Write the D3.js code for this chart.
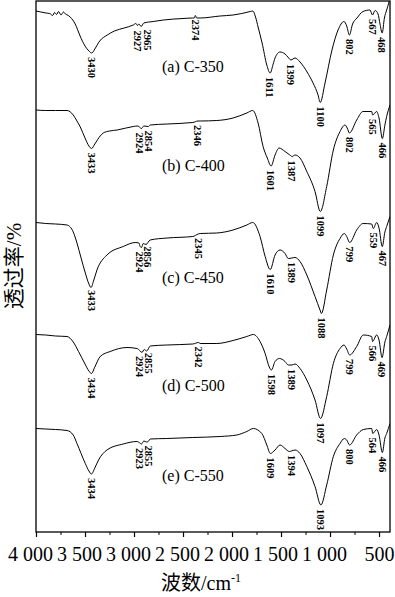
<!DOCTYPE html>
<html>
<head>
<meta charset="utf-8">
<title>FTIR C-350 ~ C-550</title>
<script src="https://d3js.org/d3.v7.min.js"></script>
<style>
  body { margin: 0; background: #fff; }
  text { font-family: "Liberation Serif", "Noto Sans CJK SC", serif; fill: #000; }
</style>
</head>
<body>
<svg width="395" height="597"></svg>
<script>
// spectra: [wavenumber cm-1, transmittance (a.u., stacked)]
var specA = [[4000,103.8],[3950,103.6],[3900,103.4],[3860,103.3],[3830,102.9],[3810,103.5],[3790,103.1],[3770,103.7],[3745,103],
  [3720,103.6],[3700,103.2],[3670,102.9],[3600,101.2],[3550,98.8],[3500,96.8],[3460,95.8],[3430,95.4],[3400,96.2],[3350,97.8],
  [3273,99],[3200,99.8],[3100,100.4],[3008,101],[2980,101.3],[2965,100.9],[2950,101.2],[2927,100.7],[2900,101.4],[2804,101.7],
  [2700,102],[2500,102.3],[2400,102.4],[2385,102.4],[2374,102.9],[2360,102.4],[2325,102.4],[2121,102.8],[1989,103],[1900,103.3],
  [1815,103.7],[1788,103.8],[1760,102.6],[1734,100.6],[1693,97.4],[1645,93],[1611,91.4],[1580,93.2],[1561,94.4],[1510,95.6],
  [1459,95.2],[1430,94.6],[1399,94],[1357,94.4],[1306,93.6],[1234,91.6],[1173,89.4],[1122,87],[1100,85.5],[1051,89.4],[980,96],
  [918,100],[857,101.7],[830,100.8],[802,99],[770,101.2],[725,102.4],[663,103.7],[592,104],[567,103],[540,103.9],[510,103.2],
  [490,101.2],[468,99.4],[445,102.4],[422,104],[398,105.6],[388,106.4]];
var specB = [[4000,84],[3900,83.9],[3800,83.9],[3684,83.9],[3620,83],[3582,81.8],[3548,80.6],[3500,78.4],[3460,76.8],[3433,76.3],
  [3400,77.2],[3345,78.8],[3314,79.4],[3250,79.8],[3171,80],[3008,80.7],[2960,80.8],[2924,80.3],[2900,80.8],[2854,80.7],[2835,81],
  [2662,81.2],[2400,81.5],[2346,81.8],[2325,81.8],[2155,81.9],[1989,82.4],[1849,83.4],[1788,83.9],[1734,81.4],[1683,76.7],
  [1640,74.4],[1601,72.8],[1561,75],[1520,76.4],[1459,75.7],[1410,75],[1387,74.7],[1357,75],[1306,74.4],[1237,71.7],[1153,67.7],
  [1099,63.7],[1034,68.7],[966,76],[898,79.7],[847,81],[825,80.4],[802,79.4],[728,82],[663,83.7],[575,83.7],[565,83],[524,83.7],
  [500,82.4],[466,78.3],[440,81],[422,82.7],[388,85]];
var specC = [[4000,61.5],[3900,61.3],[3800,61.2],[3684,61],[3620,59.6],[3582,57.4],[3540,54.4],[3497,51.4],[3460,49.2],[3439,48.5],
  [3410,50],[3378,52],[3276,55],[3110,56.7],[2988,57.5],[2950,57.4],[2937,56.7],[2924,56.5],[2906,57.3],[2878,57.1],[2835,58],
  [2662,58.4],[2400,58.7],[2345,59.2],[2325,59.3],[2155,59.4],[1989,60],[1849,61],[1788,61.5],[1714,58.7],[1662,54.7],[1610,52.1],
  [1561,55],[1510,56],[1459,55.3],[1426,54.3],[1389,54.4],[1357,54.5],[1306,53.7],[1237,51],[1153,46.7],[1102,44],[1088,43.3],
  [1034,48],[966,55],[898,58.3],[854,59.3],[830,58.7],[799,57.5],[728,60],[663,61.3],[575,61.2],[559,60.3],[524,61.5],[500,60.4],
  [467,56.7],[440,59.6],[422,60.7],[388,62.7]];
var specD = [[4000,39.1],[3900,39],[3800,38.8],[3684,38.7],[3620,37.6],[3566,35.7],[3500,33.2],[3460,31.8],[3434,31.3],[3400,32.6],
  [3345,34.7],[3243,35.7],[3072,36.5],[2970,36.3],[2937,35.8],[2919,35.5],[2896,36.1],[2870,35.8],[2835,36.8],[2665,37],[2400,37.2],
  [2342,37.5],[2325,37.3],[2155,37.3],[1989,37.9],[1849,38.7],[1782,39.1],[1714,37.7],[1662,35.3],[1620,32.6],[1598,32],[1561,33.7],
  [1517,34.3],[1459,33.7],[1426,33],[1389,33],[1357,33.2],[1306,32.3],[1237,30],[1153,26],[1097,22.3],[1034,26.7],[966,33.3],
  [898,36.3],[857,37],[830,36.2],[799,35],[728,36.7],[660,39],[575,38.7],[566,37.7],[524,39],[500,38],[469,34.5],[440,37.6],
  [422,38.7],[388,41]];
var specE = [[4000,20.3],[3900,20.2],[3800,20.1],[3684,19.9],[3620,19],[3582,17.3],[3497,13.3],[3460,11.8],[3434,11.2],[3400,12.4],
  [3362,14],[3276,16],[3110,17.2],[2970,17.7],[2940,17.4],[2923,17.2],[2900,17.8],[2870,17.6],[2855,17.7],[2835,18.2],[2665,18.3],
  [2400,18.5],[2121,18.7],[1951,19],[1849,19.7],[1782,20.3],[1696,19.3],[1645,17],[1609,15.3],[1561,16],[1510,17],[1459,16.3],
  [1415,15.7],[1394,15.8],[1357,16],[1306,15.3],[1237,12.7],[1153,8.7],[1093,5],[1034,9],[966,14.7],[898,17.3],[854,18.3],
  [830,18],[800,17],[728,19],[660,20.1],[575,20.3],[564,19.3],[524,20.1],[500,19],[466,15.5],[440,18.4],[422,19.3],[388,21.3]];

var peaksA = [3430, 2965, 2927, 2374, 1611, 1399, 1100, 802, 567, 468];
var peaksB = [3433, 2924, 2854, 2346, 1601, 1387, 1099, 802, 565, 466];
var peaksC = [3433, 2924, 2856, 2345, 1610, 1389, 1088, 799, 559, 467];
var peaksD = [3434, 2924, 2855, 2342, 1598, 1389, 1097, 799, 566, 469];
var peaksE = [3434, 2923, 2855, 1609, 1394, 1093, 800, 564, 466];

var names = ["(a) C-350", "(b) C-400", "(c) C-450", "(d) C-500", "(e) C-550"];
var majorTicks = [4000, 3500, 3000, 2500, 2000, 1500, 1000, 500];
var minorTicks = [3750, 3250, 2750, 2250, 1750, 1250, 750];

var spectra = [specA, specB, specC, specD, specE];
var peaks = [peaksA, peaksB, peaksC, peaksD, peaksE];

var svg = d3.select("svg"),
    margin = {top: 1, right: 5, bottom: 65, left: 36},
    width = +svg.attr("width") - margin.left - margin.right,
    height = +svg.attr("height") - margin.top - margin.bottom;

var x = d3.scaleLinear().domain([4000, 388]).range([0, width]);
var y = d3.scaleLinear().domain([-0.4, 105.8]).range([height, 0]);

var g = svg.append("g").attr("transform", "translate(" + margin.left + "," + margin.top + ")");

g.append("clipPath").attr("id", "clip")
  .append("rect").attr("width", width).attr("height", height);

var line = d3.line()
  .x(function(d) { return x(d[0]); })
  .y(function(d) { return y(d[1]); })
  .curve(d3.curveMonotoneX);

g.append("g").attr("clip-path", "url(#clip)")
  .selectAll("path").data(spectra).enter().append("path")
  .attr("d", line)
  .attr("fill", "none")
  .attr("stroke", "#000")
  .attr("stroke-width", 1);

// value of a spectrum at a wavenumber (linear between read points)
function valueAt(spec, w) {
  for (var i = 0; i < spec.length - 1; i++) {
    if (w <= spec[i][0] && w >= spec[i + 1][0]) {
      var t = (spec[i][0] - w) / (spec[i][0] - spec[i + 1][0]);
      return spec[i][1] + t * (spec[i + 1][1] - spec[i][1]);
    }
  }
  return spec[spec.length - 1][1];
}

// small horizontal nudges where labels sit side by side
var nudge = {"0-2965": 10.5, "0-2927": -3.7, "1-2924": -1.6, "2-2924": -1.6, "3-2924": -1.6, "4-2923": -1.6};

peaks.forEach(function(list, si) {
  list.forEach(function(p) {
    var px = x(p) + (nudge[si + "-" + p] || 0);
    var py = y(valueAt(spectra[si], p)) + 4;
    g.append("text")
      .attr("transform", "translate(" + px + "," + py + ") rotate(90)")
      .attr("dy", "0.35em")
      .style("font-size", "10.5px")
      .style("font-weight", "bold")
      .text(p);
  });
});

// sample names
var nameBase = [72, 171, 283, 391, 481];
g.selectAll(".name").data(names).enter().append("text")
  .attr("class", "name")
  .attr("x", 162 - margin.left)
  .attr("y", function(d, i) { return nameBase[i] - margin.top; })
  .style("font-size", "16px")
  .text(function(d) { return d; });

// frame
g.append("rect")
  .attr("width", width).attr("height", height)
  .attr("fill", "none").attr("stroke", "#000").attr("stroke-width", 1.3);

function fmt(v) {
  return v >= 1000 ? Math.floor(v / 1000) + " " + String(v % 1000).padStart(3, "0") : String(v);
}

var xAxis = g.append("g")
  .attr("transform", "translate(0," + height + ")")
  .call(d3.axisBottom(x).tickValues(majorTicks).tickSize(5).tickFormat(fmt));
xAxis.select(".domain").remove();
xAxis.selectAll("line").attr("stroke-width", 1.2);
xAxis.selectAll("text")
  .attr("y", 29).attr("dy", 0)
  .attr("dx", function(d) { return d >= 1000 ? -6 : 0; })
  .style("font-family", "Liberation Serif")
  .style("font-size", "20px");

var xMinor = g.append("g")
  .attr("transform", "translate(0," + height + ")")
  .call(d3.axisBottom(x).tickValues(minorTicks).tickSize(3).tickFormat(""));
xMinor.select(".domain").remove();

// axis titles
var xt = svg.append("text")
  .attr("x", 201).attr("y", 590)
  .attr("text-anchor", "middle")
  .style("font-size", "20px");
xt.append("tspan").text("波数/cm");
xt.append("tspan").attr("dy", -8).style("font-size", "12px").text("-1");

svg.append("text")
  .attr("transform", "translate(21,266) rotate(-90)")
  .attr("text-anchor", "middle")
  .style("font-size", "21px")
  .text("透过率/%");
</script>
</body>
</html>
